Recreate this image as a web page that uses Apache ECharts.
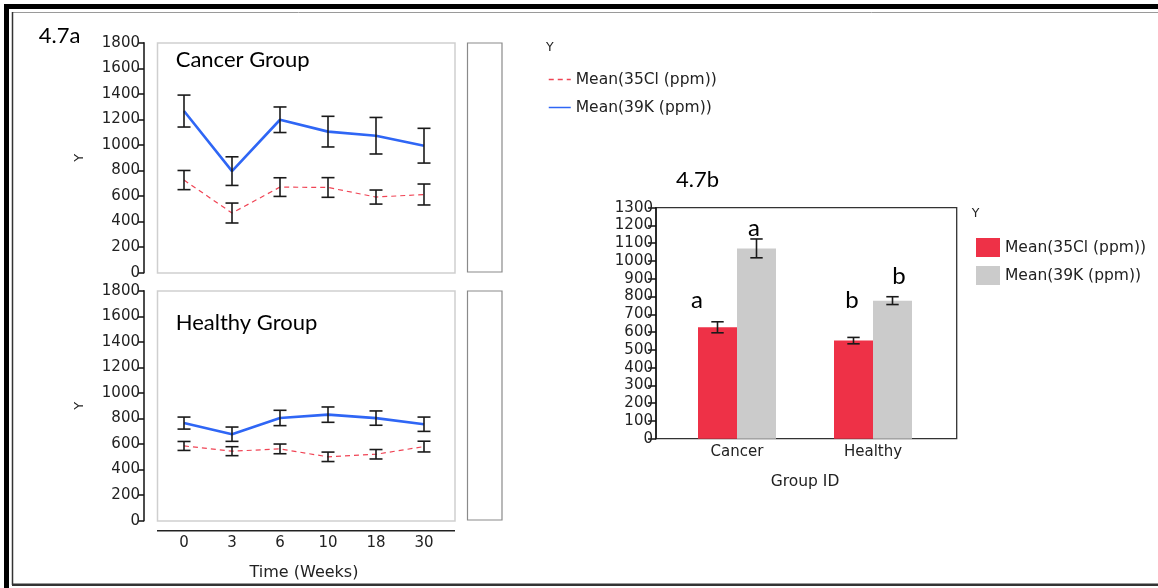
<!DOCTYPE html>
<html>
<head>
<meta charset="utf-8">
<script src="https://cdn.jsdelivr.net/npm/echarts@6/dist/echarts.min.js"></script>
<style>
  html, body { margin: 0; padding: 0; background: #fff; }
  #wrap { position: relative; width: 1158px; height: 588px; overflow: hidden; }
  .layer { position: absolute; left: 0; top: 0; width: 1158px; height: 588px; }
</style>
</head>
<body>
<div id="wrap">
  <div id="lines" class="layer"></div>
  <div id="bars" class="layer"></div>
</div>
<script>
// ---- 4.7a: mean concentrations over time (ppm), ± error ----
const weeks = ['0', '3', '6', '10', '18', '30'];
const cancerK = [1265, 795, 1197, 1104, 1072, 994];
const cancerKErr = [125, 112, 100, 120, 143, 136];
const cancerCl = [725, 467, 670, 667, 592, 612];
const cancerClErr = [75, 78, 73, 77, 55, 82];
const healthyK = [764, 677, 804, 830, 803, 755];
const healthyKErr = [47, 56, 60, 60, 56, 56];
const healthyCl = [585, 544, 562, 500, 520, 580];
const healthyClErr = [35, 35, 38, 37, 37, 42];

// ---- 4.7b: group means (ppm), ± error, with significance letters ----
const groups = ['Cancer', 'Healthy'];
const meanCl = [627, 552];
const meanClErr = [31, 18];
const meanK = [1071, 777];
const meanKErr = [53, 22];
const lettersCl = ['a', 'b'];
const lettersK = ['a', 'b'];

const nameCl = 'Mean(35Cl (ppm))';
const nameK = 'Mean(39K (ppm))';

const sans = 'DejaVu Sans';
const caption = 'Lato';
const ink = '#222';
const blue = '#2f66f5';
const red = '#f04455';
const barRed = '#ee3147';
const barGray = '#cbcbcb';
const plain = v => String(v);

function txt(text, x, y, font, align, fill) {
  return {
    type: 'text', x: x, y: y, silent: true,
    style: {
      text: text, font: font, fill: fill || '#000',
      align: align || 'left', textAlign: align || 'left',
      verticalAlign: 'middle', textVerticalAlign: 'middle'
    }
  };
}

// vertical error bar with caps, optionally shifted sideways within the band
function errorBars(values, errs, xi, yi, half, dx) {
  return {
    type: 'custom', xAxisIndex: xi, yAxisIndex: yi, silent: true, z: 6,
    data: values.map((v, i) => [i, v - errs[i], v + errs[i]]),
    encode: { x: 0, y: [1, 2] },
    renderItem(params, api) {
      const lo = api.coord([api.value(0), api.value(1)]);
      const hi = api.coord([api.value(0), api.value(2)]);
      const x = lo[0] + (dx || 0);
      const style = { stroke: '#1a1a1a', lineWidth: 1.6, fill: null };
      return {
        type: 'group', children: [
          { type: 'line', shape: { x1: x, y1: lo[1], x2: x, y2: hi[1] }, style },
          { type: 'line', shape: { x1: x - half, y1: lo[1], x2: x + half, y2: lo[1] }, style },
          { type: 'line', shape: { x1: x - half, y1: hi[1], x2: x + half, y2: hi[1] }, style }
        ]
      };
    }
  };
}

function timeYAxis(gridIndex) {
  return {
    type: 'value', gridIndex: gridIndex, min: 0, max: 1800, interval: 200, offset: 16,
    name: 'Y', nameLocation: 'middle', nameGap: 58, nameRotate: 90,
    nameTextStyle: { fontFamily: sans, fontSize: 13, color: ink },
    axisLine: { show: true, lineStyle: { color: '#111', width: 1.5 } },
    axisTick: { show: true, length: 6, lineStyle: { color: '#111', width: 1.5 } },
    axisLabel: { fontFamily: sans, fontSize: 15, color: ink, margin: 4, formatter: plain },
    splitLine: { show: false }
  };
}

function lineSeries(name, data, gi, dashed) {
  return {
    name: name, type: 'line', xAxisIndex: gi, yAxisIndex: gi, data: data,
    symbol: 'none', z: 4, silent: true,
    lineStyle: dashed
      ? { color: red, width: 1.2, type: [5, 4] }
      : { color: blue, width: 2.6 },
    itemStyle: { color: dashed ? red : blue }
  };
}

const frame = [
  { type: 'rect', shape: { x: 4, y: 4, width: 1154, height: 5 }, style: { fill: '#000' } },
  { type: 'rect', shape: { x: 4, y: 4, width: 5, height: 584 }, style: { fill: '#000' } },
  { type: 'line', shape: { x1: 12, y1: 12.5, x2: 1158, y2: 12.5 }, style: { stroke: '#9a9a9a', lineWidth: 1 } },
  { type: 'line', shape: { x1: 12.5, y1: 12, x2: 12.5, y2: 585 }, style: { stroke: '#333', lineWidth: 1.5 } },
  { type: 'line', shape: { x1: 12, y1: 584.8, x2: 1158, y2: 584.8 }, style: { stroke: '#333', lineWidth: 2.6 } }
];

const panelBoxes = [
  { type: 'rect', shape: { x: 157.5, y: 43, width: 297.5, height: 230 }, style: { fill: null, stroke: '#cfcfcf', lineWidth: 1.5 } },
  { type: 'rect', shape: { x: 467.5, y: 43, width: 34.5, height: 229 }, style: { fill: null, stroke: '#8a8a8a', lineWidth: 1.2 } },
  { type: 'rect', shape: { x: 157.5, y: 291, width: 297.5, height: 230 }, style: { fill: null, stroke: '#cfcfcf', lineWidth: 1.5 } },
  { type: 'rect', shape: { x: 467.5, y: 291, width: 34.5, height: 229 }, style: { fill: null, stroke: '#8a8a8a', lineWidth: 1.2 } },
  { type: 'line', shape: { x1: 157, y1: 530.7, x2: 455, y2: 530.7 }, style: { stroke: '#222', lineWidth: 1.5 } }
];

const lineChart = echarts.init(document.getElementById('lines'), null, { renderer: 'canvas' });
lineChart.setOption({
  animation: false,
  grid: [
    { left: 160, top: 42.7, width: 288, height: 230 },
    { left: 160, top: 290.7, width: 288, height: 230 }
  ],
  xAxis: [
    { type: 'category', gridIndex: 0, data: weeks, show: false },
    {
      type: 'category', gridIndex: 1, data: weeks, offset: 10,
      axisLine: { show: false }, axisTick: { show: false },
      axisLabel: { fontFamily: sans, fontSize: 15, color: ink, margin: 5 },
      name: 'Time (Weeks)', nameLocation: 'middle', nameGap: 34,
      nameTextStyle: { fontFamily: sans, fontSize: 16, color: ink }
    }
  ],
  yAxis: [timeYAxis(0), timeYAxis(1)],
  legend: {
    orient: 'vertical', left: 543, top: 66.5,
    itemWidth: 22, itemHeight: 14, itemGap: 12,
    data: [nameCl, nameK],
    itemStyle: { opacity: 0 },
    lineStyle: { width: 1.5, opacity: 1 },
    textStyle: { fontFamily: sans, fontSize: 15.5, color: ink }
  },
  series: [
    lineSeries(nameCl, cancerCl, 0, true),
    lineSeries(nameK, cancerK, 0, false),
    lineSeries(nameCl, healthyCl, 1, true),
    lineSeries(nameK, healthyK, 1, false),
    errorBars(cancerCl, cancerClErr, 0, 0, 6.5),
    errorBars(cancerK, cancerKErr, 0, 0, 6.5),
    errorBars(healthyCl, healthyClErr, 1, 1, 6.5),
    errorBars(healthyK, healthyKErr, 1, 1, 6.5)
  ],
  graphic: frame.concat(panelBoxes, [
    txt('4.7a', 38.7, 36, '22px ' + caption),
    txt('Cancer Group', 175.7, 60, '22px ' + caption),
    txt('Healthy Group', 175.7, 323.3, '22px ' + caption),
    txt('Y', 546, 48, '12.5px "DejaVu Sans"', 'left', ink)
  ])
});

// ---- bar chart ----
const barChart = echarts.init(document.getElementById('bars'), null, { renderer: 'canvas' });
const barW = 39;
barChart.setOption({
  animation: false,
  grid: { left: 669, top: 207.7, width: 272, height: 231 },
  xAxis: {
    type: 'category', data: groups,
    axisLine: { show: false }, axisTick: { show: false },
    axisLabel: { fontFamily: sans, fontSize: 15, color: ink, margin: 6 },
    name: 'Group ID', nameLocation: 'middle', nameGap: 35,
    nameTextStyle: { fontFamily: sans, fontSize: 15.5, color: ink }
  },
  yAxis: {
    type: 'value', min: 0, max: 1300, interval: 100, offset: 13,
    axisLine: { show: true, lineStyle: { color: '#111', width: 1.5 } },
    axisTick: { show: true, length: 8, lineStyle: { color: '#111', width: 1.5 } },
    axisLabel: { fontFamily: sans, fontSize: 15, color: ink, margin: 3, formatter: plain },
    splitLine: { show: false }
  },
  legend: {
    orient: 'vertical', left: 971, top: 233,
    itemWidth: 24, itemHeight: 19, itemGap: 9, icon: 'rect',
    data: [nameCl, nameK],
    textStyle: { fontFamily: sans, fontSize: 15.5, color: ink }
  },
  series: [
    { name: nameCl, type: 'bar', data: meanCl, barWidth: barW, barGap: '0%', itemStyle: { color: barRed }, silent: true },
    { name: nameK, type: 'bar', data: meanK, barWidth: barW, barGap: '0%', itemStyle: { color: barGray }, silent: true },
    errorBars(meanCl, meanClErr, 0, 0, 6.2, -barW / 2),
    errorBars(meanK, meanKErr, 0, 0, 6.2, barW / 2)
  ],
  graphic: [
    { type: 'rect', shape: { x: 656, y: 207.7, width: 300.7, height: 231 }, style: { fill: null, stroke: '#333', lineWidth: 1.3 }, silent: true },
    txt('4.7b', 676, 180, '22px ' + caption),
    txt('Y', 971.7, 214, '12.5px "DejaVu Sans"', 'left', ink),
    txt(lettersCl[0], 697, 300, '24px ' + caption, 'center'),
    txt(lettersK[0], 754, 228, '24px ' + caption, 'center'),
    txt(lettersCl[1], 852, 300, '24px ' + caption, 'center'),
    txt(lettersK[1], 899, 276, '24px ' + caption, 'center')
  ]
});
</script>
</body>
</html>
